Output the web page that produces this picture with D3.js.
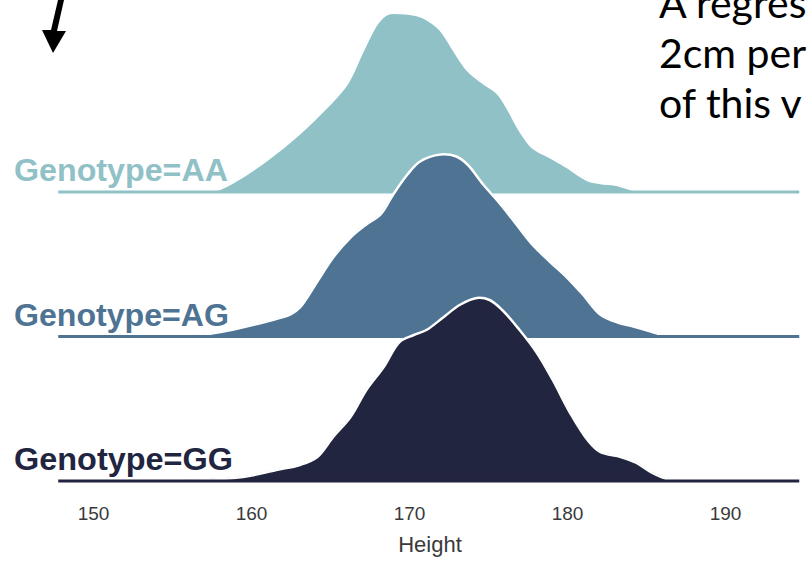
<!DOCTYPE html>
<html>
<head>
<meta charset="utf-8">
<script src="https://cdn.jsdelivr.net/npm/d3@7"></script>
<style>
  html, body { margin: 0; padding: 0; background: #fff; }
  svg { display: block; }
</style>
</head>
<body>
<svg width="808" height="562"></svg>
<script>
// 데이터
const genotypes = ['AA', 'AG', 'GG'];
const rowColors = ['#90c1c7', '#4e7393', '#22253f'];

const aaHeight = [157.0, 158.0, 158.9, 161.0, 163.1, 164.8, 166.1, 167.1, 168.0, 168.6, 169.4, 170.7, 171.5, 172.0, 173.7, 174.7, 175.6, 176.2, 177.0, 177.8, 178.9, 180.0, 181.3, 182.1, 183.2, 184.2, 185.1];
const aaDensity = [0, .0012, .0040, .0128, .0236, .0340, .0436, .0568, .0676, .0712, .0716, .0704, .0676, .0648, .0488, .0436, .0396, .0340, .0248, .0180, .0140, .0100, .0048, .0036, .0028, .0008, 0];

const agHeight = [156.0, 157.5, 158.9, 161.0, 162.5, 163.1, 164.2, 165.2, 166.3, 167.3, 168.2, 169.0, 169.9, 170.7, 172.0, 173.0, 173.7, 174.7, 175.8, 176.8, 177.8, 178.9, 180.0, 181.0, 182.1, 183.2, 184.2, 185.3, 186.3];
const agDensity = [0, .0012, .0028, .0060, .0088, .0116, .0220, .0316, .0396, .0448, .0488, .0568, .0648, .0700, .0728, .0720, .0688, .0608, .0528, .0448, .0368, .0300, .0236, .0168, .0088, .0056, .0040, .0020, 0];

const ggHeight = [155.3, 159.5, 161.6, 163.1, 164.2, 165.2, 166.3, 167.3, 168.4, 169.4, 170.3, 171.1, 172.2, 173.2, 174.3, 175.1, 175.9, 177.0, 178.1, 179.1, 180.2, 181.3, 182.1, 183.4, 184.4, 185.4, 186.5, 187.2];
const ggDensity = [0, .0016, .0044, .0064, .0096, .0176, .0256, .0364, .0456, .0556, .0584, .0604, .0656, .0704, .0732, .0724, .0684, .0604, .0512, .0404, .0272, .0164, .0116, .0096, .0072, .0032, .0004, 0];

const xTicks = [150, 160, 170, 180, 190];
const xExtent = [147.8, 194.7]; // 기준선 범위
const xLabel = 'Height';
const noteLines = ['A regression', '2cm per', 'of this v'];

const heights = [aaHeight, agHeight, ggHeight];
const densities = [aaDensity, agDensity, ggDensity];

const svg = d3.select('svg');

// 스케일
const x = d3.scaleLinear().domain([150, 190]).range([93, 725]);
const row = d3.scalePoint().domain(genotypes).range([192, 481]);
const yh = d3.scaleLinear().domain([0, 0.08]).range([0, 200]);
const curve = d3.curveCatmullRom.alpha(0.5);

// 위에서부터 차례로 그림 (아래 행이 위 행을 덮음)
genotypes.forEach((g, i) => {
  const base = row(g);
  const pts = heights[i].map((h, j) => ({ h: h, d: densities[i][j] }));
  const grp = svg.append('g');

  const area = d3.area()
    .x(d => x(d.h))
    .y0(base)
    .y1(d => Math.min(base, base - yh(d.d)))
    .curve(curve);

  const line = d3.line()
    .x(d => x(d.h))
    .y(d => base - yh(d.d))
    .curve(curve);

  grp.append('path')
    .attr('d', area(pts))
    .attr('fill', rowColors[i])
    .attr('stroke', rowColors[i])
    .attr('stroke-width', 1.5);

  // 흰색 윤곽선
  grp.append('path')
    .attr('d', line(pts))
    .attr('fill', 'none')
    .attr('stroke', '#fff')
    .attr('stroke-width', 2.5);

  // 기준선
  grp.append('line')
    .attr('x1', x(xExtent[0]))
    .attr('x2', x(xExtent[1]))
    .attr('y1', base)
    .attr('y2', base)
    .attr('stroke', rowColors[i])
    .attr('stroke-width', 3);

  grp.append('text')
    .attr('x', 14)
    .attr('y', base - 11)
    .attr('font-family', 'Liberation Sans, Arial, sans-serif')
    .attr('font-weight', 'bold')
    .attr('font-size', 31)
    .attr('textLength', g === 'GG' ? 219 : (g === 'AG' ? 215 : 214))
    .attr('lengthAdjust', 'spacingAndGlyphs')
    .attr('fill', rowColors[i])
    .text('Genotype=' + g);
});

// x축
const axis = svg.append('g')
  .attr('transform', 'translate(0,506)')
  .call(d3.axisBottom(x).tickValues(xTicks).tickSize(0).tickPadding(0));
axis.select('.domain').remove();
axis.selectAll('text')
  .attr('dy', '0.71em')
  .attr('font-family', 'Liberation Sans, Arial, sans-serif')
  .attr('font-size', 19)
  .attr('fill', '#3a3a3a');

svg.append('text')
  .attr('x', 430)
  .attr('y', 552)
  .attr('text-anchor', 'middle')
  .attr('font-family', 'Liberation Sans, Arial, sans-serif')
  .attr('font-size', 22)
  .attr('fill', '#3a3a3a')
  .text(xLabel);

// 슬라이드 주석: 화살표
svg.append('path')
  .attr('d', 'M58,0 L64,0 L57,31 L66,31 L53,53 L42,30 L51,30 Z')
  .attr('fill', '#000');

// 슬라이드 주석: 오른쪽 위 문장 (잘림)
svg.append('g')
  .selectAll('text')
  .data(noteLines)
  .enter()
  .append('text')
  .attr('x', 659)
  .attr('y', (d, i) => 18 + i * 50)
  .attr('font-family', 'Lato, Open Sans, sans-serif')
  .attr('font-size', 41)
  .attr('fill', '#000')
  .text(d => d);
</script>
</body>
</html>
